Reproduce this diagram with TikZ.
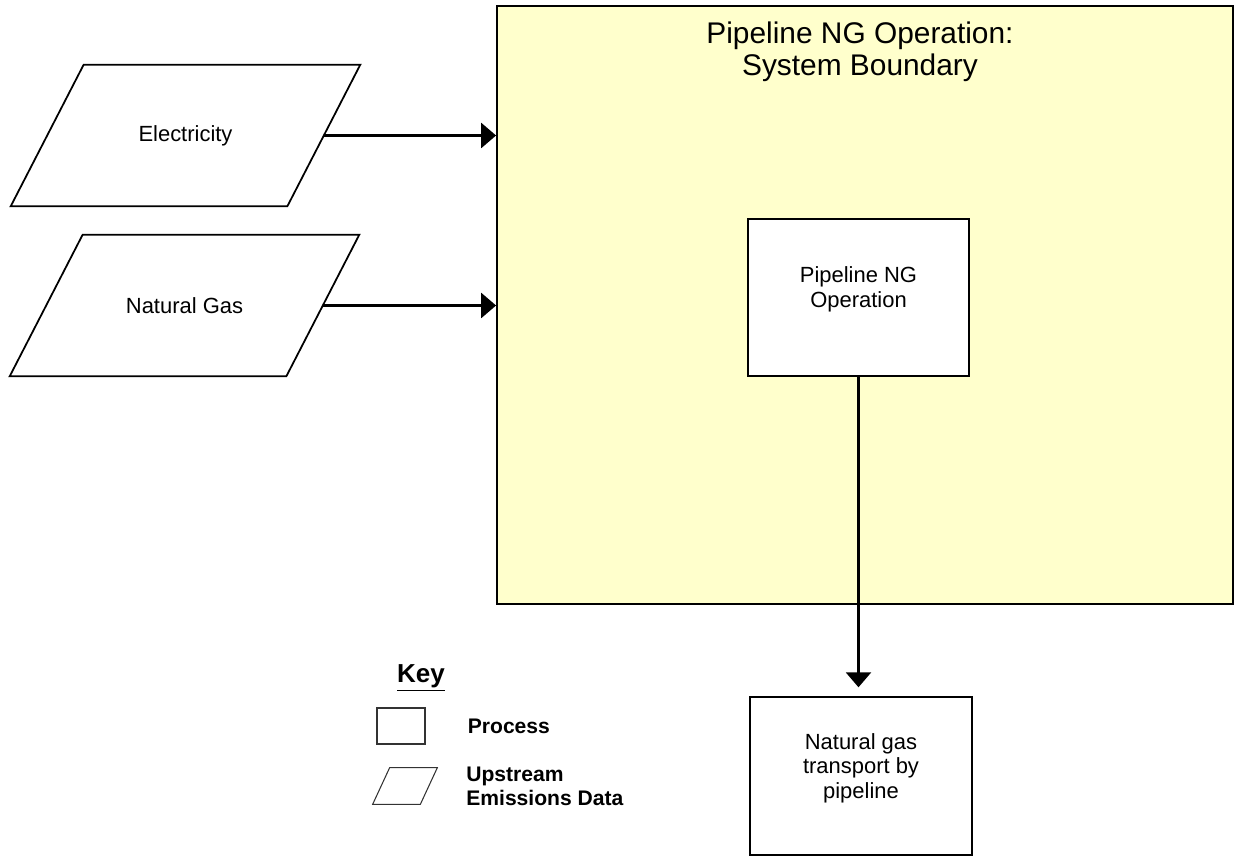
\documentclass[tikz,border=0pt]{standalone}
\usepackage{fontspec}
\setmainfont{Liberation Sans}
\usetikzlibrary{arrows.meta,positioning,fit}
\definecolor{sysyellow}{HTML}{FFFFCC}
\tikzset{
  >={Triangle[length=8.5pt,width=14pt]},
  % boxar
  bnd/.style={draw=black,fill=sysyellow,line width=1pt,inner sep=0pt},
  ttl/.style={align=center,font=\fontsize{17}{18.5}\selectfont},
  proc/.style={draw=black,fill=white,line width=1pt,inner sep=0pt,align=center,
               font=\fontsize{12.5}{14}\selectfont},
  upd/.style={inner sep=0pt,minimum width=5.52cm,minimum height=2.82cm,
              font=\fontsize{12.5}{14}\selectfont},
  updline/.style={draw=black,line width=1pt,line join=miter},
  fl/.style={->,line width=2pt},
  % nyckel
  keyhd/.style={font=\fontsize{14.8}{16}\selectfont\bfseries},
  keybox/.style={draw=black!80,fill=white,line width=0.6pt,inner sep=0pt},
  keypara/.style={inner sep=0pt,minimum width=0.94cm,minimum height=0.72cm},
  keyline/.style={draw=black!80,line width=0.6pt},
  keylbl/.style={align=left,inner sep=0pt,font=\fontsize{12}{13.5}\selectfont\bfseries},
}
% parallellogram runt en nod: #1 stil, #2 nod, #3 halva lutningen
\newcommand\paral[3]{%
  \draw[#1] ([xshift=#3]#2.north west) -- ([xshift=#3]#2.north east)
    -- ([xshift=-#3]#2.south east) -- ([xshift=-#3]#2.south west) -- cycle;}
\begin{document}
\begin{tikzpicture}[x=0.02cm,y=-0.02cm]
\useasboundingbox (0,0) rectangle (1235,857);
  \node[bnd,fit={(497,6) (1233,604)}] (bnd) {};
  \node[ttl] (ttl) at (860,52) {Pipeline NG Operation:\\System Boundary};
  \node[upd] (elec) at (185.5,135.5) {Electricity};
  \node[upd] (ng) at (184.5,305.5) {Natural Gas};
  \paral{updline}{elec}{0.73cm}
  \paral{updline}{ng}{0.73cm}
  \node[proc,fit={(748,219) (969,376)}] (ngop) {Pipeline NG\\Operation};
  \node[proc,fit={(750,697) (972,855)}] (trans) {Natural gas\\transport by\\pipeline};
  \draw[fl] (elec) -- (elec -| bnd.west);
  \draw[fl] (ng) -- (ng -| bnd.west);
  \draw[fl,shorten >=5pt] (ngop.south) -- (ngop.south |- trans.north);
  % nyckel
  \node[keyhd] (key) at (421,678) {\underline{Key}};
  \node[keybox,fit={(377,708) (425,744)}] (kproc) {};
  \node[keylbl,right=0.84cm of kproc] (kproclbl) {Process};
  \node[keypara] (kupd) at (405,786) {};
  \paral{keyline}{kupd}{0.17cm}
  \node[keylbl,anchor=west] (kupdlbl) at (466,786) {Upstream\\Emissions Data};
\end{tikzpicture}
\end{document}
